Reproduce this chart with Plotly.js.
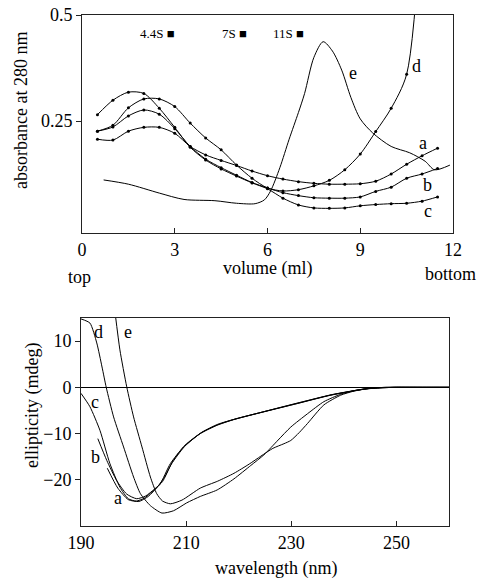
<!DOCTYPE html>
<html>
<head>
<meta charset="utf-8">
<script src="https://cdn.plot.ly/plotly-3.0.1.min.js"></script>
<style>html,body{margin:0;padding:0;background:#fff;}#plot{width:479px;height:580px;}</style>
</head>
<body>
<div id="plot"></div>
<script>
// ---- Top panel: sucrose gradient, absorbance at 280 nm ----
const volume = [0.5,1,1.5,2,2.5,3,3.5,4,4.5,5,5.5,6,6.5,7,7.5,8,8.5,9,9.5,10,10.5,11,11.5];
const absA = [0.207,0.205,0.226,0.235,0.235,0.221,0.19,0.17,0.157,0.145,0.132,0.121,0.113,0.107,0.103,0.101,0.101,0.102,0.108,0.125,0.148,0.168,0.186];
const absB = [0.226,0.236,0.262,0.276,0.266,0.232,0.19,0.16,0.14,0.122,0.105,0.092,0.081,0.074,0.069,0.068,0.068,0.071,0.084,0.094,0.115,0.125,0.138];
const absC = [0.265,0.299,0.318,0.315,0.28,0.235,0.188,0.158,0.137,0.12,0.104,0.09,0.068,0.052,0.045,0.044,0.045,0.05,0.053,0.055,0.056,0.061,0.071];
const absD = [0.226,0.24,0.281,0.302,0.302,0.284,0.245,0.21,0.182,0.146,0.115,0.092,0.085,0.088,0.097,0.11,0.135,0.172,0.225,0.28,0.36,0.75];
const eVol = [0.7,1.5,2.5,3.3,4.3,5.0,5.6,5.9,6.1,6.4,6.7,7.0,7.2,7.5,7.8,8.1,8.4,8.7,9.0,9.4,10.0,10.6,11.1,11.4,11.9];
const absE = [0.111,0.101,0.08,0.065,0.062,0.056,0.055,0.064,0.085,0.14,0.207,0.27,0.315,0.40,0.437,0.415,0.37,0.305,0.255,0.222,0.19,0.175,0.155,0.135,0.146];
const sedLabels = ["4.4S \u25A0","7S \u25A0","11S \u25A0"];
const sedPos = [2.44,4.92,6.69];

// ---- Bottom panel: CD spectra ----
const wlA = [195,197,199,201,202.8,204.5,206,207.5,209.8,213,216,219.5,225,231.5,237.8,244,247,250,255,260];
const cdA = [-17.5,-21.8,-24.3,-24.7,-23.6,-21.6,-19.2,-15.9,-12.5,-9.7,-8.0,-6.8,-5.2,-3.3,-1.6,-0.35,-0.1,0,0,0];
const wlB = [193.2,194.9,196.8,198.7,200.6,202.3,204,205.5,207.2,209.7,212.8,216,219.2,225,231.4,237.6,244,247,250,255,260];
const cdB = [-11.1,-15.8,-20.2,-23.1,-24.1,-23.5,-22,-20.4,-16.6,-12.8,-9.9,-8.1,-6.9,-5.2,-3.4,-1.6,-0.35,-0.1,0,0,0];
const wlC = [190,191.7,193.6,195.5,197.4,199,200.5,202,203.5,205,207,209.5,212.7,215.9,219,224.8,231.2,237.5,243.9,247,250,255,260];
const cdC = [-1.3,-4.2,-9.3,-16.5,-21.6,-24.1,-24.6,-24,-22.6,-21.0,-16.5,-12.9,-10,-8.2,-7.0,-5.3,-3.5,-1.7,-0.4,-0.1,0,0,0];
const wlD = [190,191.7,193,194,194.8,196.2,198.1,200,201.3,203.2,205.4,207.6,210.1,212.7,215.9,219.1,222.3,224.8,227.5,229.9,233.1,236.2,239.4,242,245,248,252,260];
const cdD = [14.8,13.9,9.6,4.4,0,-6.4,-12.9,-19.4,-23,-25.6,-27.2,-26.7,-25,-23.6,-22.2,-19.8,-16.9,-14.6,-11.4,-8.6,-5.7,-3.1,-1.5,-0.7,-0.2,0,0,0];
const wlE = [196.5,197.4,198.7,200,201.6,203.2,204.4,205.5,207,209.2,212.7,216,219.1,222,224.2,226.5,228.6,229.9,231.5,233.1,236.2,239.4,242,245,248,252,260];
const cdE = [16,8.1,0.1,-6.4,-12.9,-19.4,-23,-24.6,-25.2,-24.4,-21.8,-20.3,-18.6,-16.6,-14.9,-13.2,-12.2,-11.5,-9.8,-7.8,-3.8,-1.7,-0.8,-0.2,0,0,0];

const curveLabelsTop = [
  {t:"e", x:8.77, y:0.363}, {t:"d", x:10.83, y:0.38},
  {t:"a", x:11.03, y:0.198}, {t:"b", x:11.16, y:0.099}, {t:"c", x:11.2, y:0.038}
];
const curveLabelsBot = [
  {t:"d", x:193.4, y:11.9}, {t:"e", x:199.0, y:11.9},
  {t:"c", x:192.7, y:-3.1}, {t:"b", x:192.7, y:-15.1}, {t:"a", x:197.1, y:-23.9}
];

const SERIF = "Liberation Serif, Times New Roman, serif";
const line = {color:"#000", width:1, shape:"spline", smoothing:0.8};
const mk = {color:"#000", size:3};
const cdLine = {color:"#000", width:1, shape:"spline", smoothing:0.6};

const traces = [
  {x:volume, y:absA, mode:"lines+markers", line:line, marker:mk, xaxis:"x", yaxis:"y"},
  {x:volume, y:absB, mode:"lines+markers", line:line, marker:mk, xaxis:"x", yaxis:"y"},
  {x:volume, y:absC, mode:"lines+markers", line:line, marker:mk, xaxis:"x", yaxis:"y"},
  {x:volume.slice(0, absD.length), y:absD, mode:"lines+markers", line:line, marker:mk, xaxis:"x", yaxis:"y"},
  {x:eVol, y:absE, mode:"lines", line:line, xaxis:"x", yaxis:"y"},
  {x:wlA, y:cdA, mode:"lines", line:cdLine, xaxis:"x2", yaxis:"y2"},
  {x:wlB, y:cdB, mode:"lines", line:cdLine, xaxis:"x2", yaxis:"y2"},
  {x:wlC, y:cdC, mode:"lines", line:cdLine, xaxis:"x2", yaxis:"y2"},
  {x:wlD, y:cdD, mode:"lines", line:cdLine, xaxis:"x2", yaxis:"y2"},
  {x:wlE, y:cdE, mode:"lines", line:cdLine, xaxis:"x2", yaxis:"y2"}
];

const W = 479, H = 580;
const px = v => v / W;
const py = v => 1 - v / H;

const annotations = [];
sedLabels.forEach((t, i) => annotations.push({
  text:t, x:sedPos[i], y:0.457, xref:"x", yref:"y", showarrow:false,
  font:{family:SERIF, size:13, color:"#000"}
}));
curveLabelsTop.forEach(l => annotations.push({
  text:l.t, x:l.x, y:l.y, xref:"x", yref:"y", showarrow:false,
  font:{family:SERIF, size:18, color:"#000"}
}));
curveLabelsBot.forEach(l => annotations.push({
  text:l.t, x:l.x, y:l.y, xref:"x2", yref:"y2", showarrow:false,
  font:{family:SERIF, size:18, color:"#000"}
}));
const axisText = [
  {t:"absorbance at 280 nm", x:21, y:111, rot:-90},
  {t:"volume (ml)", x:267, y:268, rot:0},
  {t:"top", x:79, y:277, rot:0},
  {t:"bottom", x:450, y:274, rot:0},
  {t:"ellipticity (mdeg)", x:32, y:406, rot:-90},
  {t:"wavelength (nm)", x:276, y:568, rot:0}
];
axisText.forEach(a => annotations.push({
  text:a.t, x:px(a.x), y:py(a.y), xref:"paper", yref:"paper", showarrow:false,
  textangle:a.rot, xanchor:"center", yanchor:"middle",
  font:{family:SERIF, size:18, color:"#000"}
}));

const axBase = {
  showgrid:false, zeroline:false, showline:true, linecolor:"#222", linewidth:1,
  mirror:true, tickcolor:"#222", ticklen:5, tickfont:{family:SERIF, size:18, color:"#000"},
  fixedrange:true
};

const layout = {
  width:W, height:H, margin:{l:0, r:0, t:0, b:0},
  paper_bgcolor:"#fff", plot_bgcolor:"#fff", showlegend:false,
  xaxis:Object.assign({}, axBase, {domain:[px(82), px(453)], range:[0,12], tickvals:[0,3,6,9,12], ticks:"inside", anchor:"y"}),
  yaxis:Object.assign({}, axBase, {domain:[py(233), py(15)], range:[-0.01415,0.5], tickvals:[0.25,0.5], ticktext:["0.25","0.5"], ticks:"outside", anchor:"x"}),
  xaxis2:Object.assign({}, axBase, {domain:[px(81), px(449)], range:[190,260], tickvals:[190,210,230,250], ticks:"inside", anchor:"y2"}),
  yaxis2:Object.assign({}, axBase, {domain:[py(526), py(318)], range:[-30,15], tickvals:[-20,-10,0,10], ticks:"outside", anchor:"x2",
    zeroline:true, zerolinecolor:"#000", zerolinewidth:1.5}),
  annotations:annotations
};

Plotly.newPlot("plot", traces, layout, {staticPlot:true, displayModeBar:false});
</script>
</body>
</html>
